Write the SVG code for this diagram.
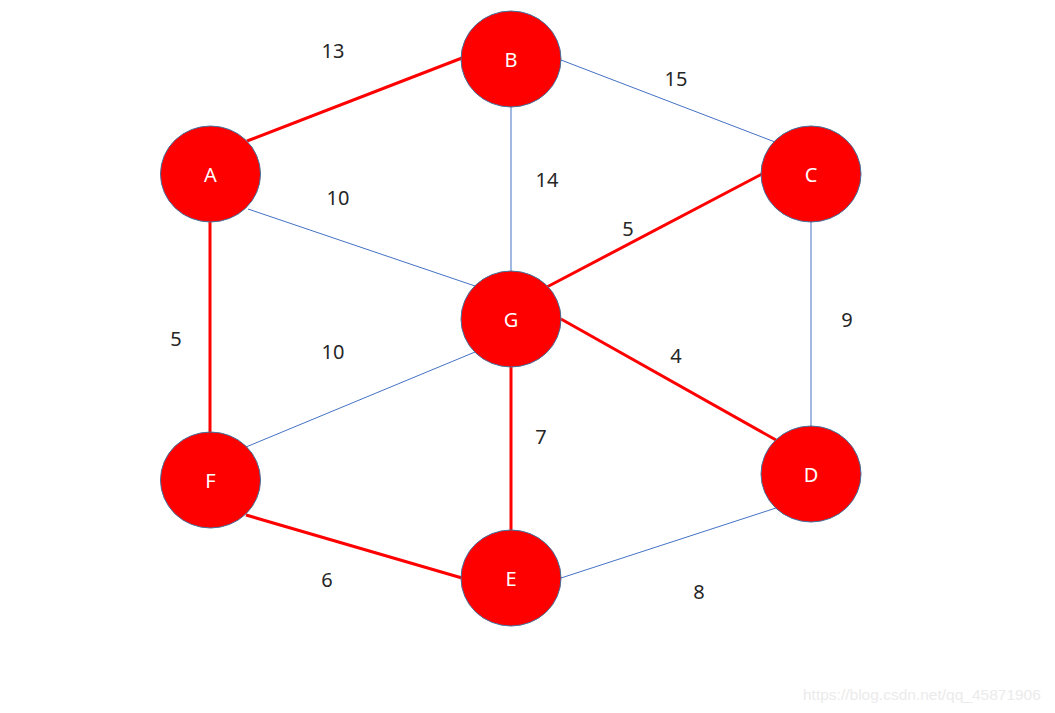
<svg xmlns="http://www.w3.org/2000/svg" width="1055" height="713" viewBox="0 0 1055 713">
<style>
.n{fill:#ff0000;stroke:#41719c;stroke-width:1}
.nt{fill:#ffffff;font-family:"Noto Sans","Liberation Sans",sans-serif;font-size:20px;text-anchor:middle}
.red{stroke:#ff0000;stroke-width:3;fill:none}
.blue{stroke:#4472c4;stroke-width:1;fill:none}
.lbl{fill:#262626;font-family:"Noto Sans","Liberation Sans",sans-serif;font-size:20px;text-anchor:middle}
.wm{fill:#ebebeb;font-family:"Liberation Sans",Arial,sans-serif;font-size:15.5px}
</style>
<rect width="1055" height="713" fill="#ffffff"/>
<g id="connectors">
<line class="red" x1="247" y1="141" x2="462" y2="58"/>
<line class="blue" x1="561" y1="60" x2="775" y2="142"/>
<line class="blue" x1="248" y1="209" x2="478" y2="287"/>
<line class="blue" x1="511" y1="107" x2="511" y2="271"/>
<line class="red" x1="545" y1="288" x2="762" y2="174"/>
<line class="blue" x1="811" y1="222" x2="811" y2="427"/>
<line class="red" x1="210" y1="222" x2="210" y2="433"/>
<line class="blue" x1="246" y1="447" x2="475" y2="352"/>
<line class="red" x1="561" y1="319" x2="776" y2="440"/>
<line class="red" x1="511" y1="367" x2="511" y2="530"/>
<line class="red" x1="246" y1="515" x2="462" y2="578"/>
<line class="blue" x1="561" y1="578" x2="776" y2="508"/>
</g>
<g id="labels">
<text class="lbl" x="333" y="58">13</text>
<text class="lbl" x="676" y="86">15</text>
<text class="lbl" x="338" y="205">10</text>
<text class="lbl" x="547" y="187">14</text>
<text class="lbl" x="628" y="236">5</text>
<text class="lbl" x="176" y="346">5</text>
<text class="lbl" x="333" y="359">10</text>
<text class="lbl" x="676" y="363">4</text>
<text class="lbl" x="847" y="327">9</text>
<text class="lbl" x="541" y="444">7</text>
<text class="lbl" x="327" y="587">6</text>
<text class="lbl" x="699" y="599">8</text>
</g>
<g id="node-B"><ellipse class="n" cx="511" cy="59" rx="50" ry="48"/><text class="nt" x="511" y="67">B</text></g>
<g id="node-A"><ellipse class="n" cx="210.5" cy="174" rx="50" ry="48"/><text class="nt" x="210.5" y="182">A</text></g>
<g id="node-C"><ellipse class="n" cx="811" cy="174" rx="50" ry="48"/><text class="nt" x="811" y="182">C</text></g>
<g id="node-G"><ellipse class="n" cx="511" cy="319" rx="50" ry="48"/><text class="nt" x="511" y="327">G</text></g>
<g id="node-F"><ellipse class="n" cx="210.5" cy="480" rx="50" ry="48"/><text class="nt" x="210.5" y="488">F</text></g>
<g id="node-D"><ellipse class="n" cx="811" cy="474" rx="50" ry="48"/><text class="nt" x="811" y="482">D</text></g>
<g id="node-E"><ellipse class="n" cx="511" cy="578" rx="50" ry="48"/><text class="nt" x="511" y="586">E</text></g>
<text class="wm" x="803" y="700">https://blog.csdn.net/qq_45871906</text>
</svg>
